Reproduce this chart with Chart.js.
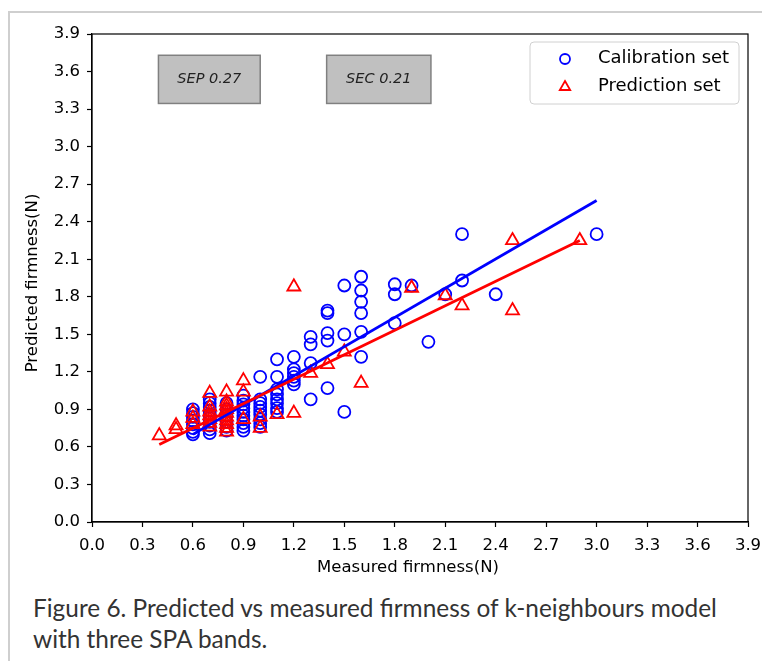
<!DOCTYPE html>
<html>
<head>
<meta charset="utf-8">
<script src="https://cdn.jsdelivr.net/npm/chart.js@4.4.1/dist/chart.umd.min.js"></script>
<style>
  html, body { margin: 0; padding: 0; background: #fff; width: 762px; height: 661px; overflow: hidden; }
  #frame { position: absolute; left: 8px; top: 11px; width: 760px; height: 660px; border-left: 2px solid #cfcfcf; border-top: 2px solid #cfcfcf; box-sizing: border-box; }
  #wrap { position: absolute; left: 0; top: 0; width: 762px; height: 590px; }
  #caption { position: absolute; left: 33px; top: 593px; width: 700px; font-family: Lato, "Open Sans", sans-serif; font-size: 24.4px; line-height: 30.6px; color: #333; }
</style>
</head>
<body>
<div id="frame"></div>
<div id="wrap"><canvas id="c" width="762" height="590"></canvas></div>
<div id="caption">Figure 6. Predicted vs measured firmness of k-neighbours model with three SPA bands.</div>
<script>
// ---- data ----
const calibX = [
  0.6,0.6,0.6,0.6,0.6,0.6,0.6,0.6,
  0.7,0.7,0.7,0.7,0.7,0.7,0.7,0.7,0.7,0.7,
  0.8,0.8,0.8,0.8,0.8,0.8,
  0.9,0.9,0.9,0.9,0.9,0.9,0.9,0.9,0.9,0.9,
  1.0,1.0,1.0,1.0,1.0,1.0,1.0,1.0,1.0,
  1.1,1.1,1.1,1.1,1.1,1.1,1.1,1.1,
  1.2,1.2,1.2,1.2,1.2,1.2,
  1.3,1.3,1.3,1.3,
  1.4,1.4,1.4,1.4,1.4,
  1.5,1.5,1.5,
  1.6,1.6,1.6,1.6,1.6,1.6,
  1.8,1.8,1.8,
  1.9, 2.0, 2.1, 2.2, 2.2, 2.4, 3.0
];
const calibY = [
  0.90,0.87,0.84,0.81,0.78,0.75,0.72,0.70,
  0.98,0.95,0.92,0.89,0.86,0.83,0.80,0.77,0.74,0.71,
  0.95,0.90,0.85,0.80,0.76,0.73,
  1.01,0.97,0.94,0.91,0.88,0.85,0.82,0.79,0.76,0.73,
  1.16,0.98,0.95,0.92,0.89,0.86,0.82,0.79,0.76,
  1.30,1.16,1.06,1.02,0.98,0.95,0.91,0.88,
  1.32,1.22,1.19,1.16,1.13,1.10,
  1.48,1.42,1.27,0.98,
  1.69,1.67,1.51,1.45,1.07,
  1.89,1.50,0.88,
  1.96,1.85,1.76,1.67,1.52,1.32,
  1.90,1.82,1.59,
  1.89, 1.44, 1.82, 2.30, 1.93, 1.82, 2.30
];
const predX = [
  0.4, 0.5,0.5, 0.6,0.6,0.6,
  0.7,0.7,0.7,0.7,0.7,0.7,0.7,
  0.8,0.8,0.8,0.8,0.8,0.8,0.8,0.8,0.8,0.8,
  0.9,0.9,0.9, 1.0,1.0, 1.1, 1.2,1.2,
  1.3, 1.4, 1.5, 1.6, 1.9, 2.1, 2.2, 2.5,2.5, 2.9
];
const predY = [
  0.69, 0.77,0.74, 0.88,0.83,0.78,
  1.03,0.92,0.88,0.85,0.82,0.79,0.76,
  1.04,0.96,0.93,0.90,0.87,0.84,0.81,0.78,0.75,0.72,
  1.13,1.04,0.82, 0.84,0.75, 0.86, 1.88,0.87,
  1.19, 1.26, 1.36, 1.11, 1.87, 1.81, 1.73, 2.25,1.69, 2.25
];
const calibFitX = [0.6, 3.0];
const calibFitY = [0.70, 2.57];
const predFitX = [0.4, 2.9];
const predFitY = [0.62, 2.25];
const tickValues = [0.0,0.3,0.6,0.9,1.2,1.5,1.8,2.1,2.4,2.7,3.0,3.3,3.6,3.9];
const seriesLabels = ['Calibration set', 'Prediction set'];
const statLabels = ['SEP 0.27', 'SEC 0.21'];
const xTitle = 'Measured firmness(N)';
const yTitle = 'Predicted firmness(N)';

const zip = (xs, ys) => xs.map((x, i) => ({x: x, y: ys[i]}));
const FONT = "'DejaVu Sans', sans-serif";

const decorPlugin = {
  id: 'decor',
  afterDraw(chart) {
    const ctx = chart.ctx;
    const a = chart.chartArea;
    const xs = chart.scales.x, ys = chart.scales.y;
    ctx.save();
    // plot frame
    ctx.strokeStyle = '#000';
    ctx.lineWidth = 1.2;
    ctx.strokeRect(a.left, a.top, a.right - a.left, a.bottom - a.top);
    // axis titles
    ctx.fillStyle = '#000';
    ctx.font = '16.5px ' + FONT;
    ctx.textAlign = 'center';
    ctx.textBaseline = 'middle';
    ctx.fillText(xTitle, (a.left + a.right) / 2 - 12, 568);
    ctx.save();
    ctx.translate(33, (a.top + a.bottom) / 2 + 5);
    ctx.rotate(-Math.PI / 2);
    ctx.fillText(yTitle, 0, 0);
    ctx.restore();
    // stat boxes
    const boxes = [[0.395, 1.0], [1.395, 2.015]];
    boxes.forEach((b, i) => {
      const x0 = xs.getPixelForValue(b[0]), x1 = xs.getPixelForValue(b[1]);
      const y0 = ys.getPixelForValue(3.73), y1 = ys.getPixelForValue(3.345);
      ctx.fillStyle = '#c0c0c0';
      ctx.fillRect(x0, y0, x1 - x0, y1 - y0);
      ctx.strokeStyle = '#808080';
      ctx.lineWidth = 1.5;
      ctx.strokeRect(x0, y0, x1 - x0, y1 - y0);
      ctx.fillStyle = '#222';
      ctx.font = 'italic 14.5px ' + FONT;
      ctx.textAlign = 'center';
      ctx.textBaseline = 'middle';
      ctx.fillText(statLabels[i], (x0 + x1) / 2, (y0 + y1) / 2);
    });
    // legend
    const lx = a.right - 218, ly = a.top + 8, lw = 209, lh = 62;
    ctx.beginPath();
    ctx.roundRect(lx, ly, lw, lh, 4);
    ctx.fillStyle = 'rgba(255,255,255,0.85)';
    ctx.fill();
    ctx.strokeStyle = '#d0d0d0';
    ctx.lineWidth = 1;
    ctx.stroke();
    ctx.font = '18px ' + FONT;
    ctx.textAlign = 'left';
    ctx.textBaseline = 'middle';
    ctx.fillStyle = '#000';
    // circle marker
    ctx.beginPath();
    ctx.arc(lx + 35, ly + 17, 5, 0, Math.PI * 2);
    ctx.strokeStyle = '#0000ff';
    ctx.lineWidth = 1.8;
    ctx.stroke();
    ctx.fillText(seriesLabels[0], lx + 68, ly + 16);
    // triangle marker
    const tx = lx + 35, ty = ly + 45, r = 6;
    ctx.beginPath();
    ctx.moveTo(tx, ty - r);
    ctx.lineTo(tx + r * 0.866, ty + r * 0.5);
    ctx.lineTo(tx - r * 0.866, ty + r * 0.5);
    ctx.closePath();
    ctx.strokeStyle = '#ff0000';
    ctx.stroke();
    ctx.fillStyle = '#000';
    ctx.fillText(seriesLabels[1], lx + 68, ly + 44);
    ctx.restore();
  }
};

const tickCfg = (axis) => ({
  type: 'linear',
  min: 0,
  max: 3.9,
  afterBuildTicks: (s) => { s.ticks = tickValues.map(v => ({value: v})); },
  ticks: {
    color: '#000',
    font: {family: FONT, size: 16.5},
    padding: axis === 'x' ? 9 : 7,
    callback: (v) => Number(v).toFixed(1),
    maxRotation: 0,
    autoSkip: false
  },
  grid: { display: true, drawOnChartArea: false, drawTicks: true, tickLength: 5, color: '#000', tickWidth: 1.2 },
  border: { display: true, color: '#000', width: 1.2 },
  title: { display: false },
  afterFit: (s) => {
    if (axis === 'x') { s.height = 68; s.paddingLeft = 0; s.paddingRight = 0; }
    else { s.width = 92; s.paddingTop = 0; s.paddingBottom = 0; }
  }
});

new Chart(document.getElementById('c'), {
  type: 'scatter',
  data: {
    datasets: [
      { label: seriesLabels[0], data: zip(calibX, calibY), pointStyle: 'circle', pointRadius: 6, pointHoverRadius: 6,
        borderColor: '#0000ff', backgroundColor: 'rgba(0,0,0,0)', borderWidth: 1.8, order: 4 },
      { label: seriesLabels[1], data: zip(predX, predY), pointStyle: 'triangle', pointRadius: 7.5, pointHoverRadius: 7.5,
        borderColor: '#ff0000', backgroundColor: 'rgba(0,0,0,0)', borderWidth: 1.8, order: 3 },
      { type: 'line', label: 'calib fit', data: zip(calibFitX, calibFitY), borderColor: '#0000ff', borderWidth: 2.8,
        pointRadius: 0, fill: false, order: 2 },
      { type: 'line', label: 'pred fit', data: zip(predFitX, predFitY), borderColor: '#ff0000', borderWidth: 2.8,
        pointRadius: 0, fill: false, order: 1 }
    ]
  },
  options: {
    responsive: false,
    animation: false,
    layout: { padding: { left: 0, top: 34, right: 14, bottom: 0 } },
    plugins: { legend: { display: false }, tooltip: { enabled: false } },
    scales: { x: tickCfg('x'), y: tickCfg('y') }
  },
  plugins: [decorPlugin]
});
</script>
</body>
</html>
